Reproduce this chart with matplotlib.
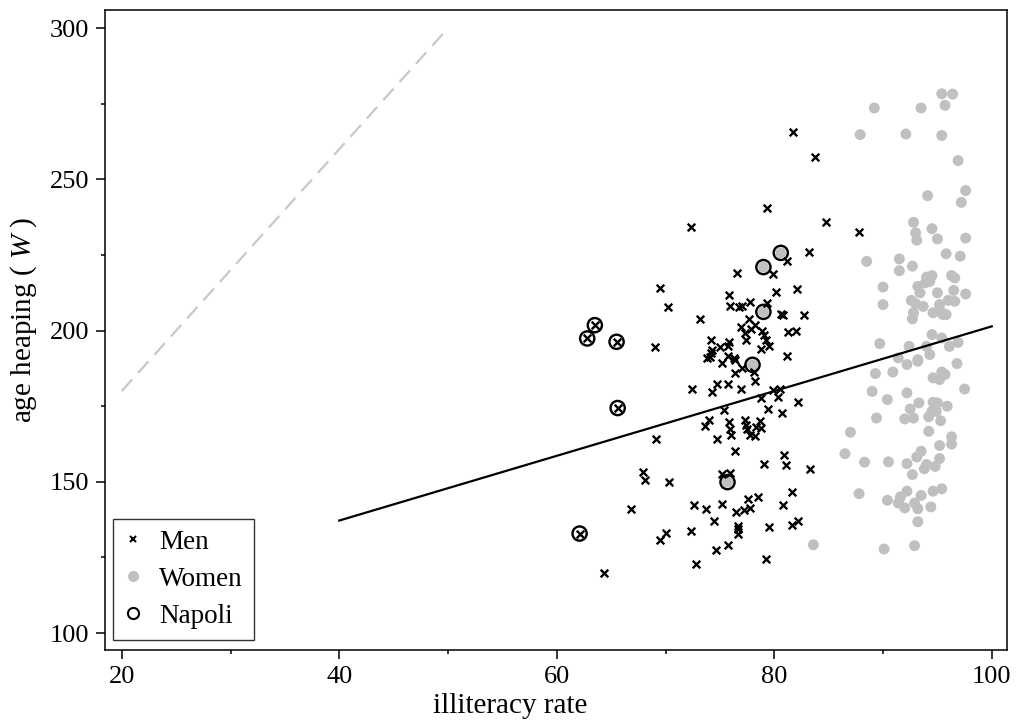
import matplotlib
matplotlib.use("Agg")
import matplotlib.pyplot as plt
from matplotlib.lines import Line2D
import numpy as np

# ---------------- data ----------------
men_x = [81.7, 83.7, 79.3, 84.8, 72.3, 87.8, 81.2, 83.2, 79.9, 76.6, 69.5, 75.8, 80.2, 82.1, 70.2,
         75.9, 76.8, 77.0, 77.8, 79.3, 80.6, 80.8, 82.7, 73.2, 77.7, 76.9, 78.2, 77.9, 78.9, 79.1,
         79.2, 77.3, 77.4, 81.3, 82.0, 69.0, 74.2, 75.8, 75.7, 75.0, 74.3, 74.2, 73.8, 74.1, 78.8,
         79.5, 75.7, 76.3, 76.4, 81.2, 75.2, 77.0, 76.4, 78.1, 78.2, 72.4, 74.7, 74.3, 75.7, 76.9,
         79.9, 80.5, 78.8, 80.3, 82.2, 75.4, 79.4, 80.7, 74.0, 73.6, 75.8, 77.3, 77.4, 78.7, 75.9,
         76.0, 77.5, 77.8, 78.3, 78.8, 78.2, 69.1, 74.7, 76.4, 80.9, 81.1, 79.1, 83.3, 67.9, 68.1,
         70.3, 75.2, 75.9, 81.6, 77.6, 78.5, 80.8, 72.6, 73.7, 75.2, 76.5, 77.2, 77.8, 66.8, 74.5,
         76.7, 76.7, 76.7, 79.5, 81.6, 82.2, 69.5, 70.0, 72.3, 75.7, 74.6, 72.8, 79.2, 64.3]
men_y = [265.6, 257.3, 240.6, 235.8, 234.3, 232.6, 222.9, 225.9, 218.8, 219.1, 214.1, 211.9, 212.7, 213.6, 207.7,
         208.0, 207.7, 208.0, 209.4, 209.2, 205.6, 205.0, 205.0, 203.9, 203.9, 201.2, 202.0, 200.6, 200.0, 198.5,
         197.0, 199.2, 197.0, 199.4, 200.0, 194.5, 196.8, 196.1, 194.8, 194.5, 193.7, 192.6, 191.0, 191.3, 193.9,
         194.8, 191.5, 191.0, 190.4, 191.5, 189.3, 187.7, 186.0, 186.2, 183.2, 180.7, 182.4, 179.7, 182.5, 180.7,
         180.3, 180.7, 177.7, 178.0, 176.3, 173.6, 174.1, 172.6, 170.4, 168.4, 169.8, 170.6, 168.9, 170.0, 167.5,
         165.6, 167.6, 165.6, 168.1, 167.9, 165.3, 164.2, 164.0, 160.3, 158.9, 155.6, 156.0, 154.1, 153.4, 150.6,
         149.9, 152.7, 152.9, 146.6, 144.4, 145.0, 142.3, 142.5, 141.1, 142.7, 139.9, 140.8, 141.4, 140.9, 137.2,
         135.5, 134.4, 132.6, 135.2, 135.6, 137.2, 130.7, 133.1, 133.8, 129.2, 127.6, 122.8, 124.5, 119.8]

napoli_men_x = [63.5, 62.8, 65.5, 65.6, 62.1]
napoli_men_y = [201.8, 197.4, 196.3, 174.4, 132.9]

women_x = [95.4, 96.4, 95.7, 89.2, 93.5, 87.9, 92.1, 95.4, 96.9, 97.6, 97.2, 94.1, 92.8, 94.5, 93.0,
           93.1, 95.0, 97.6, 95.8, 97.1, 88.5, 91.5, 91.5, 92.7, 90.0, 90.0, 94.0, 94.5, 94.3, 93.9,
           96.3, 96.6, 93.2, 93.4, 96.5, 97.6, 95.0, 92.6, 93.0, 93.7, 92.8, 92.7, 95.2, 95.2, 94.6,
           96.0, 96.6, 95.5, 95.8, 89.7, 92.4, 94.5, 95.4, 96.1, 96.9, 94.0, 94.3, 93.2, 91.4, 92.2,
           93.2, 96.8, 89.3, 90.9, 94.6, 95.2, 95.4, 95.7, 97.5, 89.0, 92.2, 90.4, 93.3, 92.5, 94.6,
           95.0, 94.5, 94.9, 94.2, 95.9, 95.3, 89.4, 92.0, 92.8, 87.0, 94.2, 96.3, 96.3, 95.2, 86.5,
           93.5, 93.1, 95.2, 88.3, 90.5, 92.2, 94.0, 93.8, 94.8, 92.7, 87.8, 92.2, 91.6, 91.4, 92.0,
           92.9, 93.2, 93.5, 90.4, 94.6, 95.4, 94.4, 93.2, 83.6, 90.1, 92.9]
women_y = [278.3, 278.2, 274.5, 273.6, 273.6, 264.8, 265.0, 264.5, 256.2, 246.3, 242.4, 244.6, 235.8, 233.7, 232.3,
           229.9, 230.3, 230.6, 225.4, 224.6, 222.9, 223.7, 219.8, 221.3, 214.4, 208.6, 217.7, 218.2, 216.3, 215.8,
           218.2, 217.4, 214.6, 212.5, 213.3, 212.1, 212.5, 210.0, 208.9, 208.0, 205.9, 203.9, 208.6, 206.9, 205.9,
           210.0, 209.7, 205.3, 205.3, 195.7, 194.8, 198.7, 197.6, 194.8, 196.1, 194.8, 192.1, 190.4, 191.0, 188.8,
           189.9, 189.1, 185.8, 186.3, 184.4, 183.8, 186.3, 185.5, 180.7, 179.9, 179.4, 177.2, 176.1, 174.1, 176.3,
           176.1, 173.3, 173.3, 171.5, 175.0, 170.2, 171.1, 170.8, 171.1, 166.4, 166.7, 164.9, 162.5, 162.0, 159.3,
           160.1, 158.2, 157.7, 156.5, 156.6, 156.0, 155.7, 154.3, 155.1, 152.4, 146.1, 146.9, 145.0, 143.0, 141.4,
           143.0, 141.1, 145.5, 143.9, 146.9, 147.7, 141.7, 136.8, 129.2, 127.8, 128.9]

napoli_women_x = [80.6, 79.0, 79.0, 78.0, 75.7]
napoli_women_y = [225.7, 221.0, 206.2, 188.7, 149.9]

fit_x = [40, 100]
fit_y = [137.2, 201.4]

ref_x = [20, 50]
ref_y = [180, 300]

legend_labels = ["Men", "Women", "Napoli"]
x_ticks = [20, 40, 60, 80, 100]
y_ticks = [100, 150, 200, 250, 300]

# ---------------- style ----------------
plt.rcParams['font.family'] = ['Liberation Serif', 'DejaVu Serif']
plt.rcParams['mathtext.fontset'] = 'custom'
plt.rcParams['mathtext.rm'] = 'Liberation Serif'
plt.rcParams['mathtext.it'] = 'Liberation Serif:italic'

GRAY = '#c0c0c0'

fig = plt.figure(figsize=(10.17, 7.24), dpi=100)
ax = fig.add_axes([105/1017, 1 - 650/724, 902/1017, 640/724])

ax.plot(ref_x, ref_y, color='#c8c8c8', lw=1.6, dashes=(7, 4), zorder=1)

ax.scatter(women_x + napoli_women_x, women_y + napoli_women_y, s=62, color=GRAY,
           edgecolors='none', zorder=2)
ax.scatter(men_x + napoli_men_x, men_y + napoli_men_y, s=30, marker='x', color='black',
           linewidths=1.7, zorder=3)
ax.scatter(napoli_men_x + napoli_women_x, napoli_men_y + napoli_women_y, s=105,
           facecolors='none', edgecolors='black', linewidths=1.7, zorder=4)

ax.plot(fit_x, fit_y, color='black', lw=1.6, zorder=5)

ax.set_xlim(18.46, 101.4)
ax.set_ylim(94.4, 306)
ax.set_xticks(x_ticks)
ax.set_yticks(y_ticks)
ax.set_xticks([30, 50, 70, 90], minor=True)
ax.set_yticks([125, 175, 225, 275], minor=True)
ax.tick_params(which='major', length=6.5, width=1.1, labelsize=19, pad=5, direction='out')
ax.tick_params(which='minor', length=3.2, width=1.1, direction='out')
for sp in ax.spines.values():
    sp.set_linewidth(1.1)

ax.set_xlabel("illiteracy rate", fontsize=21, labelpad=4)
ax.xaxis.set_label_coords(0.449, -0.067)
ax.set_ylabel(r"age heaping ( $\it{W}$ )", fontsize=21, labelpad=8)
ax.yaxis.set_label_coords(-0.073, 0.516)

handles = [
    Line2D([], [], ls='none', marker='x', color='black', markersize=5, markeredgewidth=1.5),
    Line2D([], [], ls='none', marker='o', color=GRAY, markeredgecolor='none', markersize=8),
    Line2D([], [], ls='none', marker='o', markerfacecolor='none', markeredgecolor='black',
           markersize=8, markeredgewidth=1.5),
]
leg = ax.legend(handles, legend_labels, loc='lower left', bbox_to_anchor=(0.009, 0.016),
                borderaxespad=0, fontsize=19.5, frameon=True, fancybox=False,
                handlelength=0.7, handletextpad=0.6, labelspacing=0.45, borderpad=0.4)
leg.get_frame().set_edgecolor('black')
leg.get_frame().set_linewidth(1.0)

fig.savefig("out.png", dpi=100)
